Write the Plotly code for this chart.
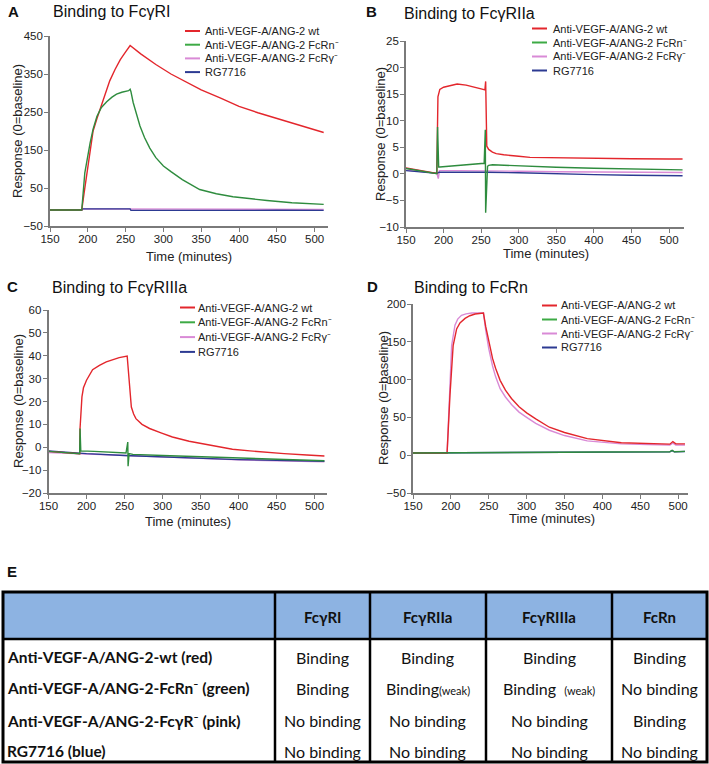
import plotly.graph_objects as go

# ---------------------------------------------------------------- data
TIME_TICKS = [150, 200, 250, 300, 350, 400, 450, 500]
SERIES_NAMES = ["Anti-VEGF-A/ANG-2 wt", "Anti-VEGF-A/ANG-2 FcRn⁻",
                "Anti-VEGF-A/ANG-2 FcRγ⁻", "RG7716"]
PANEL_TITLES = ["Binding to FcγRI", "Binding to FcγRIIa",
                "Binding to FcγRIIIa", "Binding to FcRn"]
PANEL_LETTERS = ["A", "B", "C", "D"]
A_YTICKS = [-50, 50, 150, 250, 350, 450]
B_YTICKS = [-10, -5, 0, 5, 10, 15, 20, 25]
C_YTICKS = [-20, -10, 0, 10, 20, 30, 40, 50, 60]
D_YTICKS = [-50, 0, 50, 100, 150, 200]

# Panel A : Fc-gamma-RI
A_t_wt = [150, 192, 195, 198.5, 203, 207, 212, 216, 222, 229, 236, 243, 250, 256,
          270, 290, 310, 330, 350, 375, 400, 425, 450, 475, 512]
A_wt = [-8, -8, 35, 80, 150, 200, 232, 255, 293, 332, 362, 388, 408, 425,
        403, 375, 350, 328, 308, 287, 265, 248, 233, 218, 196]
A_t_fcrn = [150, 192, 196, 200, 203, 207, 212, 218, 225, 232, 238, 245, 254, 256, 257,
            260, 265, 269, 275, 282, 290, 300, 310, 325, 348, 370, 392, 415, 437, 470, 512]
A_fcrn = [-8, -8, 89, 140, 168, 205, 238, 262, 277, 289, 297, 302, 306, 310, 304,
          275, 240, 213, 183, 155, 130, 108, 93, 72, 46, 35, 27, 21, 17, 11, 7]
A_t_fcgr = [150, 192, 193, 256, 257, 512]
A_fcgr = [-8, -8, -5, -5, -6.5, -6.5]
A_t_rg = [150, 192, 193, 256, 257, 300, 350, 400, 450, 512]
A_rg = [-8, -8, -5, -5, -8.5, -9, -8.5, -9, -8.5, -9]

# Panel B : Fc-gamma-RIIa
B_t_wt = [150, 160, 170, 180, 191, 192.5, 195, 200, 210, 218, 230, 240, 250, 255, 256,
          257.5, 260, 265, 270, 280, 290, 300, 315, 350, 400, 450, 500, 518]
B_wt = [1.1, 0.85, 0.6, 0.35, 0.1, 14.5, 15.9, 16.3, 16.7, 16.9, 16.7, 16.4, 16.0, 15.8, 17.4,
        5.2, 4.6, 4.1, 3.8, 3.6, 3.4, 3.3, 3.1, 3.0, 2.9, 2.85, 2.8, 2.8]
B_t_fcrn = [150, 160, 170, 180, 191, 192, 193.5, 195, 210, 230, 254, 255.5, 256, 258.5,
            260, 265, 280, 300, 350, 400, 450, 518]
B_fcrn = [1.0, 0.75, 0.5, 0.3, 0.05, 8.8, 1.3, 1.3, 1.5, 1.7, 2.0, 8.3, -7.3, 1.4,
          1.6, 1.7, 1.6, 1.5, 1.25, 1.05, 0.9, 0.75]
B_t_fcgr = [150, 170, 191, 193, 194.5, 220, 256, 300, 350, 400, 450, 518]
B_fcgr = [0.7, 0.45, 0.15, -0.9, 0.6, 0.6, 0.5, 0.5, 0.4, 0.35, 0.3, 0.25]
B_t_rg = [150, 170, 191, 194, 220, 256, 300, 350, 400, 450, 518]
B_rg = [0.6, 0.4, 0.1, 0.3, 0.35, 0.3, 0.2, 0.0, -0.15, -0.25, -0.35]

# Panel C : Fc-gamma-RIIIa
C_t_wt = [150, 170, 191, 191.5, 194, 196, 200, 208, 217, 226, 235, 243, 253.5, 255.7,
          259, 262, 265, 273, 283, 298, 313, 335, 350, 370, 392, 415, 436, 460, 490, 513]
C_wt = [-1.8, -2.3, -2.8, 8.2, 22, 26, 29.3, 33.9, 35.8, 37.3, 38.4, 39.2, 39.9, 29.3,
        17.6, 14.5, 12.5, 10, 8.2, 6.3, 4.5, 2.6, 1.7, 0.3, -0.9, -1.6, -2.2, -2.8, -3.4, -3.8]
C_t_fcrn = [150, 191, 191.5, 192.5, 210, 230, 252, 254.3, 254.7, 256, 261, 300, 350,
            392, 450, 513]
C_fcrn = [-1.8, -2.8, 8.2, -1.6, -1.8, -2.1, -2.5, 2.3, -8.3, -2.8, -3.1, -3.6, -4.2,
          -4.6, -5.3, -5.9]
C_t_fcgr = [150, 200, 250, 300, 350, 400, 450, 513]
C_fcgr = [-2.3, -3.0, -3.7, -4.4, -5.0, -5.5, -5.9, -6.4]
C_t_rg = [150, 200, 250, 300, 350, 400, 450, 513]
C_rg = [-1.6, -2.8, -3.6, -4.3, -4.9, -5.4, -5.7, -6.1]

# Panel D : FcRn
D_t_wt = [150, 195, 198.8, 201, 203, 207.6, 212, 218.7, 225, 232, 243, 246, 250, 255, 259,
          265, 272, 280, 290, 300, 312, 330, 350, 380, 425, 460, 489, 493, 497, 509]
D_wt = [3, 3, 79.5, 115, 145, 167, 175, 181, 184.5, 186.8, 188, 170, 150, 128, 115,
        99, 86, 75, 64, 56, 48, 37, 30, 22, 16.5, 15, 14.6, 18, 15, 15]
D_t_fcrn = [150, 195, 250, 300, 350, 400, 450, 489, 492, 495, 509]
D_fcrn = [3, 3, 3.5, 3.8, 4, 4.2, 4.4, 4.5, 6.5, 4.5, 5]
D_t_fcgr = [150, 195, 198.5, 201, 205.4, 209, 214, 220, 227.5, 243, 246, 250, 255, 259,
            265, 272, 280, 290, 300, 312, 330, 350, 380, 425, 460, 489, 493, 497, 509]
D_fcgr = [3, 3, 85, 145, 172, 180, 185, 187, 188, 188, 165, 141, 118, 104,
          88, 77, 67, 57, 50, 42, 33, 26, 19, 15, 14, 13.5, 16, 13.5, 13.5]
D_t_rg = [150, 195, 250, 300, 350, 400, 450, 489, 492, 495, 509]
D_rg = [3, 3, 3.3, 3.6, 3.9, 4.1, 4.3, 4.4, 6, 4.4, 4.8]

# Table (panel E)
TABLE_LETTER = "E"
TABLE_HEADER = ["FcγRI", "FcγRIIa", "FcγRIIIa", "FcRn"]
TABLE_ROWS = ["Anti-VEGF-A/ANG-2-wt (red)", "Anti-VEGF-A/ANG-2-FcRn⁻ (green)",
              "Anti-VEGF-A/ANG-2-FcγR⁻ (pink)", "RG7716 (blue)"]
TABLE_CELLS = [
    ["Binding", "Binding", "Binding", "Binding"],
    ["Binding", "Binding(weak)", "Binding  (weak)", "No binding"],
    ["No binding", "No binding", "No binding", "Binding"],
    ["No binding", "No binding", "No binding", "No binding"],
]

# ---------------------------------------------------------------- styling
W, H = 709, 764
FONT = "Liberation Sans, Arial, sans-serif"
TFONT = "Lato, Carlito, Calibri, sans-serif"
COLORS = ["#E3262C", "#2E8C3E", "#D98AD6", "#2C3A92"]
LEGEND_COLORS = ["#E3262C", "#3DAA45", "#D98AD6", "#2C3A92"]
AXIS_COL = "#7a7a7a"


def fx(p):
    return p / W


def fy(p):
    return 1 - p / H


panels = [
    dict(series=[(A_t_wt, A_wt), (A_t_fcrn, A_fcrn), (A_t_fcgr, A_fcgr), (A_t_rg, A_rg)],
         yticks=A_YTICKS, xd=(50, 328), yd=(36, 226), xr=(150, 517.7), yr=(-50, 450),
         title_xy=(51, 12), letter_xy=(6, 11), xt=(189, 257), yt=(18, 131),
         leg=(185, 203, 31, 13.7)),
    dict(series=[(B_t_wt, B_wt), (B_t_fcrn, B_fcrn), (B_t_fcgr, B_fcgr), (B_t_rg, B_rg)],
         yticks=B_YTICKS, xd=(406, 684), yd=(41, 227), xr=(150, 519.9), yr=(-10, 25),
         title_xy=(402, 13), letter_xy=(364, 11), xt=(546, 253), yt=(380, 134),
         leg=(532, 551, 28.5, 14)),
    dict(series=[(C_t_wt, C_wt), (C_t_fcrn, C_fcrn), (C_t_fcgr, C_fcgr), (C_t_rg, C_rg)],
         yticks=C_YTICKS, xd=(48.5, 327), yd=(310, 493), xr=(150, 516.4), yr=(-20, 60),
         title_xy=(50, 287), letter_xy=(5, 286), xt=(188, 521), yt=(18, 401),
         leg=(180, 196, 307.5, 14.8)),
    dict(series=[(D_t_wt, D_wt), (D_t_fcrn, D_fcrn), (D_t_fcgr, D_fcgr), (D_t_rg, D_rg)],
         yticks=D_YTICKS, xd=(413, 688), yd=(304, 493), xr=(150, 513), yr=(-50, 200),
         title_xy=(412, 287), letter_xy=(365, 286), xt=(552, 518), yt=(383, 398),
         leg=(542, 559, 305.5, 14)),
]

fig = go.Figure()
layout = dict(width=W, height=H, autosize=False, margin=dict(l=0, r=0, t=0, b=0, pad=0),
              paper_bgcolor="white", plot_bgcolor="white", showlegend=False,
              font=dict(family=FONT, color="#222"))
annotations = []
shapes = []

DRAW_ORDER = [2, 3, 0, 1]  # pink, blue, red, green (green on top)

for i, p in enumerate(panels):
    s = "" if i == 0 else str(i + 1)
    for k in DRAW_ORDER:
        t, v = p["series"][k]
        fig.add_trace(go.Scatter(x=t, y=v, mode="lines", name=SERIES_NAMES[k],
                                 line=dict(color=COLORS[k], width=1.4),
                                 xaxis="x" + s, yaxis="y" + s, showlegend=False))
    axis_common = dict(showline=True, linecolor=AXIS_COL, linewidth=1.6, ticks="outside",
                       ticklen=4, tickwidth=1.4, tickcolor=AXIS_COL, showgrid=False,
                       zeroline=False, automargin=False,
                       tickfont=dict(size=11.5, family=FONT, color="#222"))
    layout["xaxis" + s] = dict(domain=[fx(p["xd"][0]), fx(p["xd"][1])], range=list(p["xr"]),
                               anchor="y" + s, tickmode="array", tickvals=TIME_TICKS,
                               ticklabelstandoff=-3, **axis_common)
    layout["yaxis" + s] = dict(domain=[fy(p["yd"][1]), fy(p["yd"][0])], range=list(p["yr"]),
                               anchor="x" + s, tickmode="array", tickvals=p["yticks"],
                               ticklabelstandoff=-1, **axis_common)
    # titles / letters
    annotations.append(dict(text=PANEL_TITLES[i], x=fx(p["title_xy"][0]), y=fy(p["title_xy"][1]),
                            xref="paper", yref="paper", xanchor="left", yanchor="middle",
                            showarrow=False, font=dict(size=16, family=FONT, color="#111")))
    annotations.append(dict(text="<b>" + PANEL_LETTERS[i] + "</b>", x=fx(p["letter_xy"][0]),
                            y=fy(p["letter_xy"][1]), xref="paper", yref="paper",
                            xanchor="left", yanchor="middle", showarrow=False,
                            font=dict(size=15, family=FONT, color="#111")))
    annotations.append(dict(text="Time (minutes)", x=fx(p["xt"][0]), y=fy(p["xt"][1]),
                            xref="paper", yref="paper", xanchor="center", yanchor="middle",
                            showarrow=False, font=dict(size=13, family=FONT, color="#222")))
    annotations.append(dict(text="Response (0=baseline)", x=fx(p["yt"][0]), y=fy(p["yt"][1]),
                            xref="paper", yref="paper", xanchor="center", yanchor="middle",
                            textangle=-90, showarrow=False,
                            font=dict(size=13, family=FONT, color="#222")))
    # legend
    lx, tx, ly, dy = p["leg"]
    for k, name in enumerate(SERIES_NAMES):
        yy = ly + k * dy
        shapes.append(dict(type="line", xref="paper", yref="paper", x0=fx(lx), x1=fx(lx + 15),
                           y0=fy(yy), y1=fy(yy), line=dict(color=LEGEND_COLORS[k], width=2)))
        annotations.append(dict(text=name, x=fx(tx), y=fy(yy), xref="paper", yref="paper",
                                xanchor="left", yanchor="middle", showarrow=False,
                                font=dict(size=11, family=FONT, color="#222")))

# ---------------------------------------------------------------- table E
annotations.append(dict(text="<b>" + TABLE_LETTER + "</b>", x=fx(5), y=fy(571), xref="paper",
                        yref="paper", xanchor="left", yanchor="middle", showarrow=False,
                        font=dict(size=15, family=FONT, color="#111")))
T_TOP, T_HEAD, T_BOT, T_L, T_R = 592, 639, 762, 3, 707
COL_X = [T_L, 275, 370, 486, 612, T_R]
ROW_Y = [657, 688, 720.5, 751]
HEAD_Y = 617

shapes.append(dict(type="rect", xref="paper", yref="paper", x0=fx(T_L), x1=fx(T_R),
                   y0=fy(T_HEAD), y1=fy(T_TOP), fillcolor="#8DB3E2", line=dict(width=0),
                   layer="below"))
for cx in COL_X[1:-1]:
    shapes.append(dict(type="line", xref="paper", yref="paper", x0=fx(cx), x1=fx(cx),
                       y0=fy(T_TOP), y1=fy(T_BOT), line=dict(color="black", width=2.5)))
shapes.append(dict(type="line", xref="paper", yref="paper", x0=fx(T_L), x1=fx(T_R),
                   y0=fy(T_HEAD), y1=fy(T_HEAD), line=dict(color="black", width=2.5)))
shapes.append(dict(type="rect", xref="paper", yref="paper", x0=fx(T_L), x1=fx(T_R),
                   y0=fy(T_BOT), y1=fy(T_TOP), line=dict(color="black", width=3)))

for j, h in enumerate(TABLE_HEADER):
    cx = (COL_X[j + 1] + COL_X[j + 2]) / 2
    annotations.append(dict(text="<b>" + h + "</b>", x=fx(cx), y=fy(HEAD_Y), xref="paper",
                            yref="paper", xanchor="center", yanchor="middle", showarrow=False,
                            font=dict(size=15, family=TFONT, color="#111")))
for r, label in enumerate(TABLE_ROWS):
    annotations.append(dict(text="<b>" + label + "</b>", x=fx(5), y=fy(ROW_Y[r]),
                            xref="paper", yref="paper", xanchor="left", yanchor="middle",
                            showarrow=False, font=dict(size=15.5, family=TFONT, color="#111")))
    for j, cell in enumerate(TABLE_CELLS[r]):
        cx = (COL_X[j + 1] + COL_X[j + 2]) / 2
        txt = cell.replace("(weak)", "<span style='font-size:11px'>(weak)</span>")
        annotations.append(dict(text=txt, x=fx(cx), y=fy(ROW_Y[r]), xref="paper",
                                yref="paper", xanchor="center", yanchor="middle",
                                showarrow=False, font=dict(size=16, family=TFONT, color="#111")))

layout["annotations"] = annotations
layout["shapes"] = shapes
fig.update_layout(**layout)
fig.write_html(
    "out.html",
    config={"responsive": False, "displayModeBar": False},
    post_script="document.documentElement.style.margin='0';document.body.style.margin='0';"
                "document.body.style.overflow='hidden';",
)
